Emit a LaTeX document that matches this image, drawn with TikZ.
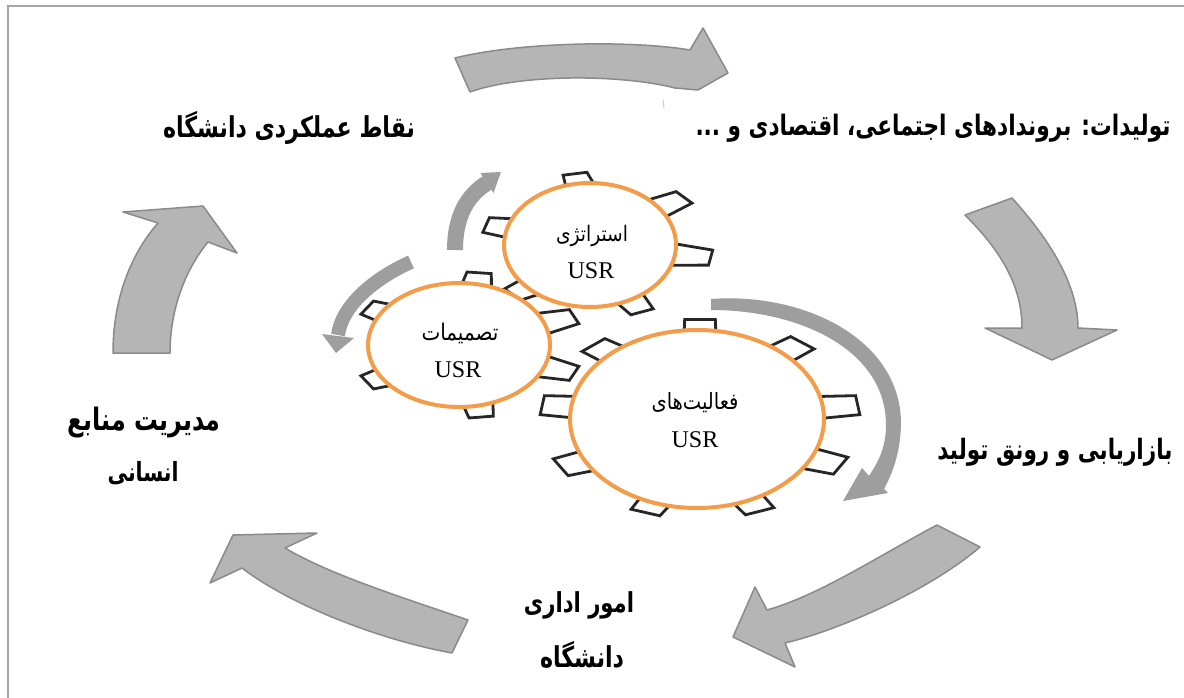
\documentclass[tikz,border=0pt]{standalone}
\usepackage{fontspec}
\usepackage{graphicx}
\setmainfont{Liberation Serif}
\newfontfamily\fa[Script=Arabic]{DejaVu Sans}
\TeXXeTstate=1
\usetikzlibrary{calc,shapes.geometric}
\definecolor{arrfill}{RGB}{181,181,181}
\definecolor{arrline}{RGB}{138,138,138}
\definecolor{smallarr}{RGB}{158,158,158}
\definecolor{gearorange}{RGB}{243,156,74}
\definecolor{framegray}{RGB}{165,165,165}

\newcommand{\fitR}[2]{\resizebox{#1}{!}{\scalebox{1}[1.15]{\fa #2}}}
\newcommand{\fitRB}[2]{\resizebox{#1}{!}{\scalebox{1}[1.3]{\fa\bfseries #2}}}

\tikzset{
 bigarrow/.style={fill=arrfill, draw=arrline, line width=1.5pt, line join=round},
 smallarrow/.style={fill=smallarr},
 smallshaft/.style={draw=smallarr, line width=14pt, line cap=butt},
 tooth/.style={draw=black!85, fill=white, line width=2.8pt, line join=miter},
 gearbody/.style={draw=gearorange, fill=white, line width=4pt, ellipse, inner sep=0pt},
 lbl/.style={inner sep=0pt, text=black},
 usr/.style={inner sep=0pt, font=\fontsize{24}{24}\selectfont},
}

% teeth centre cx cy, root rx ry, heights hx hy, half-angles a b, {angles}
\newcommand{\gearteeth}[9]{%
 \foreach \t in {#9}{%
  \filldraw[tooth] ({#1+(#3-12)*cos(\t-#7)},{#2-(#4-8)*sin(\t-#7)}) -- ({#1+(#3+#5)*cos(\t-#8)},{#2-(#4+#6)*sin(\t-#8)}) -- ({#1+(#3+#5)*cos(\t+#8)},{#2-(#4+#6)*sin(\t+#8)}) -- ({#1+(#3-12)*cos(\t+#7)},{#2-(#4-8)*sin(\t+#7)});
 }}

\begin{document}
\begin{tikzpicture}[x=1pt,y=-1pt]
\useasboundingbox (0,0) rectangle (1184,698);
\fill[white] (0,0) rectangle (1184,698);
% frame
\draw[framegray, line width=2pt] (8,698) -- (8,6) -- (1184,6);

% outer cycle arrows
\draw[bigarrow] (455,58) .. controls (520,42) and (630,40) .. (690,50) -- (703,28) -- (728,73) -- (698,90) -- (675,88) .. controls (620,74) and (520,74) .. (470,92) -- cycle;
\draw[bigarrow] (1012,198) .. controls (1050,240) and (1078,285) .. (1078,328) -- (1117,330) -- (1052,360) -- (985,328) -- (1022,328) .. controls (1022,285) and (1000,250) .. (965,215) -- cycle;
\draw[bigarrow] (937,525) .. controls (880,555) and (820,595) .. (767,610) -- (755,587) -- (733,637) -- (795,667) -- (785,643) .. controls (840,630) and (930,590) .. (980,547) -- cycle;
\draw[bigarrow] (468,620) .. controls (410,600) and (330,575) .. (285,548) -- (317,533) -- (233,535) -- (210,583) -- (242,568) .. controls (290,605) and (380,640) .. (452,653) -- cycle;
\draw[bigarrow] (113,353) .. controls (113,300) and (130,255) .. (158,223) -- (123,212) -- (203,206) -- (237,253) -- (208,242) .. controls (185,270) and (170,310) .. (170,353) -- cycle;
\draw[framegray!60, line width=1pt] (663,100) -- (664,108);

% small arrows around gears
\draw[smallshaft, line width=16pt] (455,250) .. controls (455,215) and (468,195) .. (487,183);
\fill[smallarrow] (480.5,173) -- (501,172) -- (493.5,193) -- cycle;
\draw[smallshaft] (411,262) .. controls (375,278) and (342,305) .. (338,335);
\fill[smallarrow] (322,334) -- (354,338) -- (336,353) -- cycle;
\fill[smallarrow] (711,299) .. controls (805,292) and (902,340) .. (901,425) .. controls (900,455) and (892,474) .. (884,489)
  -- (888,493) -- (843,501) -- (862,468) -- (869,476) .. controls (878,462) and (886,448) .. (886,425)
  .. controls (886,350) and (800,310) .. (711,310) -- cycle;

% gears
\gearteeth{597}{245}{86}{62}{30}{11}{12}{6}{101,41,-10,-67,-137,164}
\gearteeth{467}{345}{91}{62}{26}{11}{12}{6}{84,23,-23,-83,-149,149}
\gearteeth{700}{419}{127}{89}{33}{11}{8}{5.5}{90,50,8,-28,-68,-110,-151,172,132}

\node[gearbody, minimum width=172pt, minimum height=124pt] (g1) at (590,245) {};
\node[gearbody, minimum width=182pt, minimum height=124pt] (g2) at (459,345) {};
\node[gearbody, minimum width=254pt, minimum height=178pt] (g3) at (697,419) {};

\node[lbl] (g1t) at (592,236) {\fitR{72pt}{\beginR استراتژی\endR}};
\node[usr] (g1u) at (591,271) {USR};
\node[lbl] (g2t) at (460,333) {\fitR{77pt}{\beginR تصمیمات\endR}};
\node[usr] (g2u) at (458,370) {USR};
\node[lbl] (g3t) at (695,403) {\fitR{87pt}{\beginR فعالیت‌های\endR}};
\node[usr] (g3u) at (695,440) {USR};

% labels
\node[lbl] (l1) at (289,128) {\fitRB{252pt}{\beginR نقاط عملکردی دانشگاه\endR}};
\node[lbl] (l2) at (933,128) {\fitRB{475pt}{\beginR تولیدات: بروندادهای اجتماعی، اقتصادی و ...\endR}};
\node[lbl] (l3) at (1055,452) {\fitRB{235pt}{\beginR بازاریابی و رونق تولید\endR}};
\node[lbl] (l4) at (579,605) {\fitRB{110pt}{\beginR امور اداری\endR}};
\node[lbl] (l5) at (582,655) {\fitRB{84pt}{\beginR دانشگاه\endR}};
\node[lbl] (l6) at (144,423) {\fitRB{153pt}{\beginR مدیریت منابع\endR}};
\node[lbl] (l7) at (143,473) {\fitRB{71pt}{\beginR انسانی\endR}};
\end{tikzpicture}
\end{document}
